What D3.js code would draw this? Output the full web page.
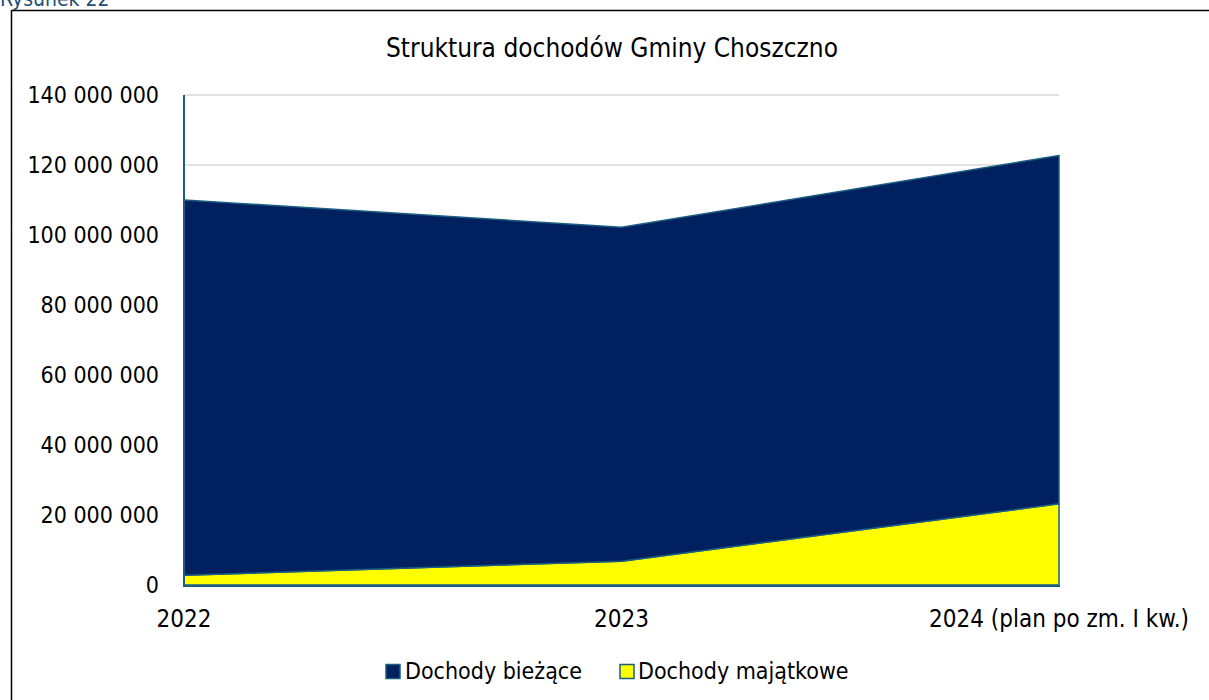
<!DOCTYPE html>
<html><head><meta charset="utf-8">
<script src="https://cdn.jsdelivr.net/npm/d3@7"></script>
<style>body{margin:0;background:#fff}svg{display:block}text{font-family:"DejaVu Sans Condensed","DejaVu Sans",sans-serif}</style>
</head><body><svg id="c" width="1209" height="700"></svg>
<script>
const categories = ["2022", "2023", "2024 (plan po zm. I kw.)"];
const seriesNames = ["Dochody majątkowe", "Dochody bieżące"];
const capitalRevenue = [2800000, 6800000, 23200000];
const currentRevenue = [107200000, 95400000, 99500000];
const yTicks = [0, 20000000, 40000000, 60000000, 80000000, 100000000, 120000000, 140000000];
const fills = {"Dochody majątkowe": "#FFFF00", "Dochody bieżące": "#002060"};
const edge = "#1B5E80";

const svg = d3.select("#c");
svg.append("rect").attr("x", 11.5).attr("y", 10.5).attr("width", 1210).attr("height", 700)
  .attr("fill", "none").attr("stroke", "#000").attr("stroke-width", 1.5);
svg.append("text").attr("x", 0).attr("y", 6).attr("fill", "#1F4E79").attr("font-size", 21).text("Rysunek 22");
svg.append("text").attr("x", 612).attr("y", 57).attr("text-anchor", "middle").attr("font-size", 26).attr("fill", "#000")
  .text("Struktura dochodów Gminy Choszczno");

const x = d3.scalePoint().domain(categories).range([184, 1059]);
const y = d3.scaleLinear().domain([0, 140000000]).range([585, 95]);

const fmt = v => d3.format(",")(v).replace(/,/g, " ");
svg.append("g").selectAll("line").data(yTicks.filter(d => d > 0)).join("line")
  .attr("x1", 184).attr("x2", 1059).attr("y1", d => y(d)).attr("y2", d => y(d))
  .attr("stroke", "#D9D9D9").attr("stroke-width", 1.5);

const rows = categories.map((c, i) => ({cat: c, "Dochody majątkowe": capitalRevenue[i], "Dochody bieżące": currentRevenue[i]}));
const stack = d3.stack().keys(seriesNames)(rows);
const area = d3.area().x(d => x(d.data.cat)).y0(d => y(d[0])).y1(d => y(d[1]));
svg.append("g").selectAll("path").data(stack).join("path")
  .attr("d", area).attr("fill", d => fills[d.key]).attr("stroke", edge).attr("stroke-width", 1.5).attr("stroke-linejoin", "round");

svg.append("line").attr("x1", 184).attr("x2", 184).attr("y1", 95).attr("y2", 586).attr("stroke", edge).attr("stroke-width", 2);
svg.append("line").attr("x1", 183).attr("x2", 1060).attr("y1", 586).attr("y2", 586).attr("stroke", edge).attr("stroke-width", 2);

svg.append("g").selectAll("text").data(yTicks).join("text")
  .attr("x", 159).attr("y", d => y(d)).attr("dy", "0.36em").attr("text-anchor", "end")
  .attr("font-size", 23).attr("fill", "#000").text(fmt);

svg.append("g").selectAll("text").data(categories).join("text")
  .attr("x", d => x(d)).attr("y", 627).attr("text-anchor", "middle")
  .attr("font-size", 24).attr("fill", "#000").text(d => d);

const legend = [
  {name: "Dochody bieżące", sx: 386, tx: 405},
  {name: "Dochody majątkowe", sx: 620, tx: 638}
];
const lg = svg.append("g").selectAll("g").data(legend).join("g");
lg.append("rect").attr("x", d => d.sx).attr("y", 664.5).attr("width", 14).attr("height", 14)
  .attr("fill", d => fills[d.name]).attr("stroke", edge).attr("stroke-width", 1.5);
lg.append("text").attr("x", d => d.tx).attr("y", 679).attr("font-size", 23).attr("fill", "#000").text(d => d.name);
</script></body></html>
